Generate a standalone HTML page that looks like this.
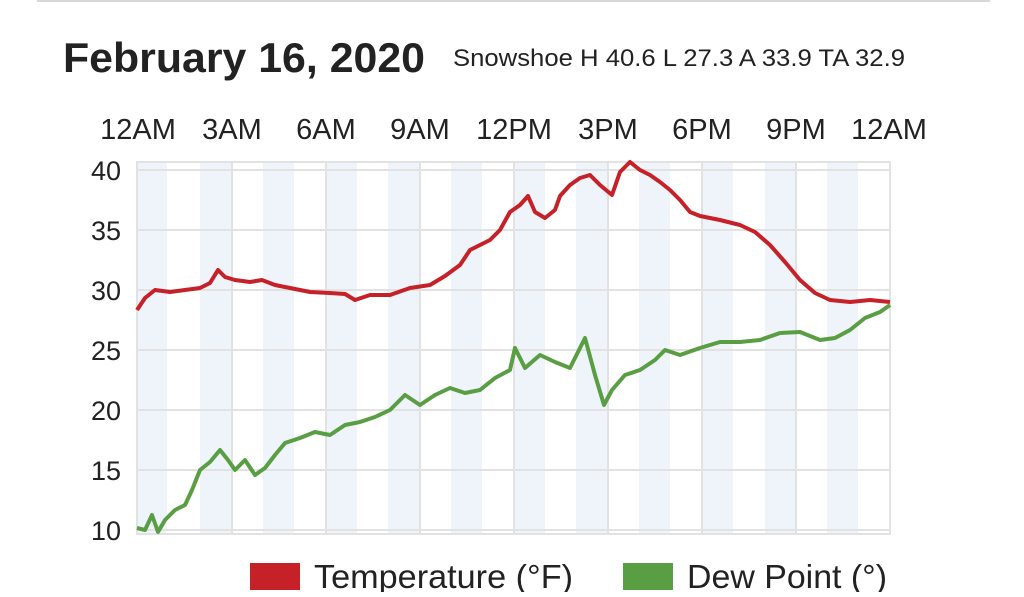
<!DOCTYPE html>
<html><head><meta charset="utf-8"><style>
body{margin:0;width:1024px;height:592px;background:#fff;overflow:hidden;font-family:"Liberation Sans",sans-serif;}
</style></head><body>
<svg width="1024" height="592" xmlns="http://www.w3.org/2000/svg" font-family="Liberation Sans, sans-serif">
<line x1="37" y1="1" x2="990" y2="1" stroke="#d8d8d8" stroke-width="2"/>
<text x="63" y="72" font-size="42" font-weight="bold" fill="#222" textLength="362" lengthAdjust="spacingAndGlyphs">February 16, 2020</text>
<text x="453" y="66" font-size="24" fill="#222" textLength="452" lengthAdjust="spacingAndGlyphs">Snowshoe H 40.6 L 27.3 A 33.9 TA 32.9</text>
<g font-size="29" fill="#222" text-anchor="middle">
<text x="138" y="139">12AM</text><text x="232" y="139">3AM</text><text x="326" y="139">6AM</text>
<text x="420" y="139">9AM</text><text x="514" y="139">12PM</text><text x="608" y="139">3PM</text>
<text x="702" y="139">6PM</text><text x="796" y="139">9PM</text><text x="889" y="139">12AM</text>
</g>
<g fill="#eef4fa">
<rect x="137" y="162" width="30" height="372"/><rect x="200" y="162" width="31" height="372"/>
<rect x="263" y="162" width="31" height="372"/><rect x="326" y="162" width="31" height="372"/>
<rect x="388" y="162" width="31" height="372"/><rect x="451" y="162" width="31" height="372"/>
<rect x="514" y="162" width="31" height="372"/><rect x="576" y="162" width="31" height="372"/>
<rect x="639" y="162" width="31" height="372"/><rect x="702" y="162" width="31" height="372"/>
<rect x="765" y="162" width="31" height="372"/><rect x="827" y="162" width="31" height="372"/>
</g>
<g stroke="#e2e2e2" stroke-width="2" fill="none">
<rect x="137" y="162" width="753" height="372"/>
<line x1="137" y1="170" x2="890" y2="170"/><line x1="137" y1="230" x2="890" y2="230"/>
<line x1="137" y1="290" x2="890" y2="290"/><line x1="137" y1="350" x2="890" y2="350"/>
<line x1="137" y1="410" x2="890" y2="410"/><line x1="137" y1="470" x2="890" y2="470"/>
<line x1="137" y1="530" x2="890" y2="530"/>
<line x1="232" y1="162" x2="232" y2="534"/><line x1="326" y1="162" x2="326" y2="534"/>
<line x1="420" y1="162" x2="420" y2="534"/><line x1="514" y1="162" x2="514" y2="534"/>
<line x1="608" y1="162" x2="608" y2="534"/><line x1="702" y1="162" x2="702" y2="534"/>
<line x1="796" y1="162" x2="796" y2="534"/>
</g>
<g font-size="27" fill="#222" text-anchor="end">
<text x="121" y="180">40</text><text x="121" y="240">35</text><text x="121" y="300">30</text>
<text x="121" y="360">25</text><text x="121" y="420">20</text><text x="121" y="480">15</text><text x="121" y="540">10</text>
</g>
<polyline fill="none" stroke="#c62128" stroke-width="4" stroke-linejoin="round" points="137,310 145,298 155,290 170,292 185,290 200,288 210,283 218,270 225,277 235,280 250,282 262,280 275,285 290,288 310,292 330,293 345,294 355,300 370,295 390,295 410,288 430,285 445,276 460,265 470,250 490,240 500,230 510,212 520,205 528,196 535,212 545,218 555,210 560,196 570,185 580,178 590,175 600,185 612,195 620,172 630,162 640,170 650,175 660,182 670,190 680,200 690,212 700,216 720,220 740,225 755,232 770,245 785,262 800,280 815,293 830,300 850,302 870,300 890,302"/>
<polyline fill="none" stroke="#5a9e44" stroke-width="4" stroke-linejoin="round" points="137,528 145,530 152,515 158,532 165,520 175,510 185,505 192,490 200,470 210,462 220,450 228,460 235,470 245,460 255,475 265,468 275,455 285,443 300,438 315,432 330,435 345,425 360,422 375,417 390,410 405,395 420,405 435,395 450,388 465,393 480,390 495,378 510,370 515,348 525,368 540,355 555,362 570,368 585,338 595,375 604,405 612,390 625,375 640,370 655,360 665,350 680,355 700,348 720,342 740,342 760,340 780,333 800,332 820,340 835,338 850,330 865,318 880,312 890,305"/>
<rect x="250" y="563" width="50" height="27" fill="#c62128"/>
<text x="314" y="588" font-size="33" fill="#222" textLength="259" lengthAdjust="spacingAndGlyphs">Temperature (°F)</text>
<rect x="623" y="563" width="50" height="27" fill="#5a9e44"/>
<text x="687" y="588" font-size="33" fill="#222" textLength="200" lengthAdjust="spacingAndGlyphs">Dew Point (°)</text>
</svg>
</body></html>
